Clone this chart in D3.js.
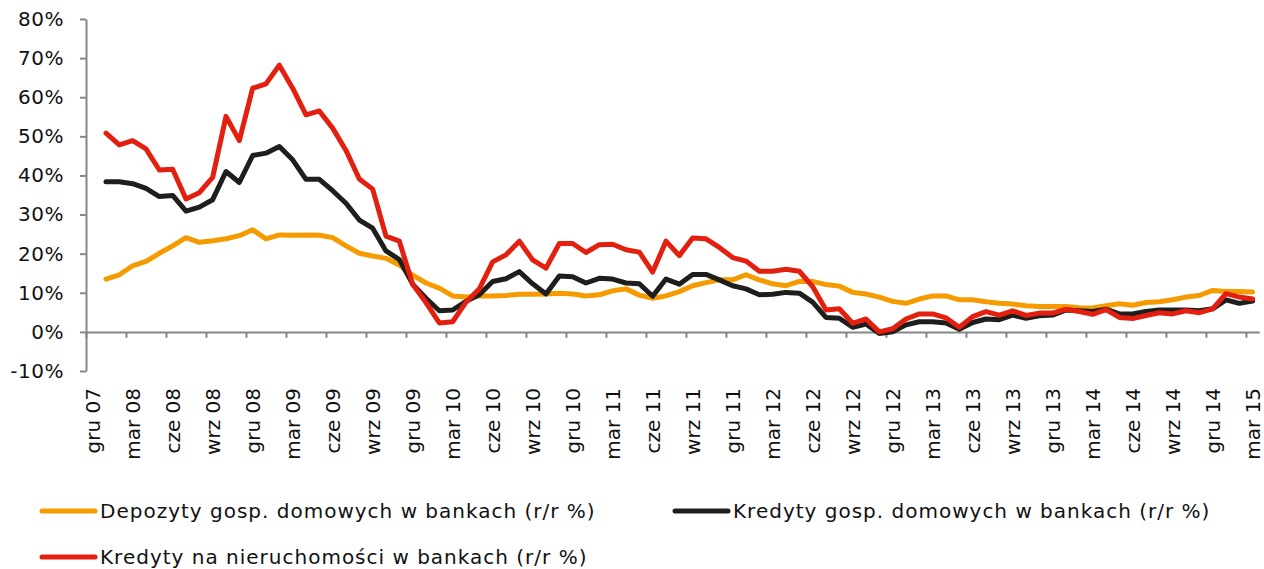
<!DOCTYPE html>
<html>
<head>
<meta charset="utf-8">
<script src="https://cdn.jsdelivr.net/npm/d3@7"></script>
<style>
  html, body { margin: 0; padding: 0; background: #fff; }
  svg { display: block; font-family: "DejaVu Sans", Verdana, sans-serif; }
</style>
</head>
<body>
<div id="chart"></div>
<script>
// labels under the x axis, one every 3 months (gru 07 .. mar 15)
const tickLabels = [
    "gru 07", "mar 08", "cze 08", "wrz 08", "gru 08", "mar 09", "cze 09", "wrz 09",
    "gru 09", "mar 10", "cze 10", "wrz 10", "gru 10", "mar 11", "cze 11", "wrz 11",
    "gru 11", "mar 12", "cze 12", "wrz 12", "gru 12", "mar 13", "cze 13", "wrz 13",
    "gru 13", "mar 14", "cze 14", "wrz 14", "gru 14", "mar 15",
];
const nCategories = 88; // months gru 07 .. mar 15
const yTicks = [-10, 0, 10, 20, 30, 40, 50, 60, 70, 80];

// r/r %, first month (gru 07) has no value
const depozyty = [null,
    13.5, 14.6, 16.9, 18.0, 20.1, 22.0, 24.1, 22.9, 23.3, 23.8,
    24.6, 26.1, 23.8, 24.8, 24.7, 24.8, 24.7, 24.1, 22.0, 20.1,
    19.4, 18.8, 17.1, 14.5, 12.5, 11.2, 9.2, 8.9, 9.2, 9.2,
    9.3, 9.6, 9.6, 9.7, 9.9, 9.7, 9.2, 9.5, 10.5, 11.0,
    9.4, 8.6, 9.2, 10.3, 11.8, 12.6, 13.3, 13.3, 14.6, 13.3,
    12.3, 11.8, 12.9, 12.9, 12.1, 11.7, 10.1, 9.7, 8.9, 7.8,
    7.3, 8.4, 9.2, 9.2, 8.2, 8.2, 7.7, 7.3, 7.1, 6.7,
    6.5, 6.5, 6.5, 6.2, 6.1, 6.7, 7.2, 6.8, 7.5, 7.7,
    8.2, 8.9, 9.3, 10.6, 10.3, 10.3, 10.2];

const kredyty = [null,
    38.4, 38.4, 37.9, 36.7, 34.6, 34.9, 30.9, 31.9, 33.8, 41.0,
    38.2, 45.1, 45.7, 47.4, 44.0, 39.0, 39.0, 36.1, 32.9, 28.6,
    26.5, 20.7, 18.5, 12.2, 8.6, 5.4, 5.6, 7.8, 9.5, 12.9,
    13.6, 15.4, 12.3, 9.7, 14.3, 14.1, 12.5, 13.7, 13.5, 12.5,
    12.3, 9.1, 13.5, 12.2, 14.7, 14.7, 13.3, 11.8, 11.0, 9.5,
    9.6, 10.1, 9.9, 7.6, 3.7, 3.5, 1.2, 2.0, -0.4, 0.0,
    1.8, 2.6, 2.6, 2.3, 0.7, 2.4, 3.3, 3.1, 4.3, 3.5,
    4.1, 4.3, 5.6, 5.4, 5.2, 5.8, 4.6, 4.6, 5.2, 5.6,
    5.6, 5.6, 5.4, 5.9, 8.2, 7.3, 7.9];

const nieruchomosci = [null,
    50.8, 47.8, 48.9, 46.8, 41.4, 41.6, 34.0, 35.6, 39.5, 55.1,
    48.9, 62.3, 63.4, 68.2, 62.3, 55.5, 56.5, 52.1, 46.4, 39.1,
    36.5, 24.5, 23.2, 12.2, 7.5, 2.3, 2.6, 7.6, 11.0, 17.9,
    19.7, 23.2, 18.4, 16.3, 22.6, 22.6, 20.3, 22.3, 22.4, 21.0,
    20.4, 15.3, 23.2, 19.5, 24.0, 23.8, 21.6, 19.0, 18.1, 15.5,
    15.5, 16.0, 15.5, 11.6, 5.6, 5.9, 2.2, 3.3, 0.0, 0.8,
    3.3, 4.6, 4.6, 3.6, 1.2, 3.9, 5.2, 4.3, 5.4, 4.2,
    4.8, 4.8, 5.8, 5.2, 4.5, 5.7, 3.7, 3.4, 4.2, 4.9,
    4.6, 5.4, 4.9, 5.9, 9.8, 8.9, 8.4];

const series = [
    { name: "Depozyty gosp. domowych w bankach (r/r %)", values: depozyty, color: "#f59b00" },
    { name: "Kredyty gosp. domowych w bankach (r/r %)", values: kredyty, color: "#1e1e1c" },
    { name: "Kredyty na nieruchomości w bankach (r/r %)", values: nieruchomosci, color: "#e3200f" },
];

const width = 1264;
const height = 569;
const marginLeft = 86;
const plotRight = 1259.3;
const plotTop = 19;
const plotBottom = 371;
const axisColor = "#868686";
const fontSize = 20;

const svg = d3.select("#chart")
    .append("svg")
    .attr("width", width)
    .attr("height", height);

// category axis: index 0..88, a month sits in the middle of its slot
const x = d3.scaleLinear()
    .domain([0, nCategories])
    .range([marginLeft, plotRight]);

const y = d3.scaleLinear()
    .domain([-10, 80])
    .range([plotBottom, plotTop]);

// y axis
svg.append("g")
    .attr("transform", `translate(${marginLeft},0)`)
    .call(d3.axisLeft(y)
        .tickValues(yTicks)
        .tickSize(6)
        .tickSizeOuter(0)
        .tickPadding(16)
        .tickFormat((d) => d + "%"))
    .call((g) => g.select(".domain").attr("stroke", axisColor).attr("stroke-width", 2))
    .call((g) => g.selectAll(".tick line").attr("stroke", axisColor).attr("stroke-width", 2))
    .call((g) => g.selectAll(".tick text")
        .attr("fill", "#111")
        .style("font-size", fontSize + "px")
        .style("letter-spacing", "0.5px")
        .style("font-family", "DejaVu Sans, Verdana, sans-serif"));

// x axis on the 0% line, tick every 3 months
const tickCats = tickLabels.map((_, i) => i * 3);
svg.append("g")
    .attr("transform", `translate(0,${y(0)})`)
    .call(d3.axisBottom(x)
        .tickValues(tickCats)
        .tickSize(6)
        .tickSizeOuter(0)
        .tickFormat(""))
    .call((g) => g.select(".domain").attr("stroke", axisColor).attr("stroke-width", 2))
    .call((g) => g.selectAll(".tick line").attr("stroke", axisColor).attr("stroke-width", 2));

// rotated month labels
svg.append("g")
    .selectAll("text")
    .data(tickLabels)
    .join("text")
    .attr("transform", (d, i) => `translate(${x(i * 3 + 0.5)},388) rotate(-90)`)
    .attr("text-anchor", "end")
    .attr("dy", "0.35em")
    .attr("fill", "#111")
    .style("font-size", fontSize + "px")
    .text((d) => d);

// lines
const line = d3.line()
    .defined((d) => d != null)
    .x((d, i) => x(i + 0.5))
    .y((d) => y(d));

svg.append("g")
    .selectAll("path")
    .data(series)
    .join("path")
    .attr("fill", "none")
    .attr("stroke", (d) => d.color)
    .attr("stroke-width", 5)
    .attr("stroke-linejoin", "round")
    .attr("stroke-linecap", "round")
    .attr("d", (d) => line(d.values));

// legend
const legendPos = [
    { x: 42, y: 511 },
    { x: 675, y: 511 },
    { x: 42, y: 557 },
];

const legend = svg.append("g")
    .selectAll("g")
    .data(series)
    .join("g")
    .attr("transform", (d, i) => `translate(${legendPos[i].x},${legendPos[i].y})`);

legend.append("line")
    .attr("x1", 0)
    .attr("x2", 53)
    .attr("stroke", (d) => d.color)
    .attr("stroke-width", 5)
    .attr("stroke-linecap", "round");

legend.append("text")
    .attr("x", 58)
    .attr("dy", "0.35em")
    .attr("fill", "#111")
    .style("font-size", fontSize + "px")
    .style("letter-spacing", "1px")
    .text((d) => d.name);
</script>
</body>
</html>
